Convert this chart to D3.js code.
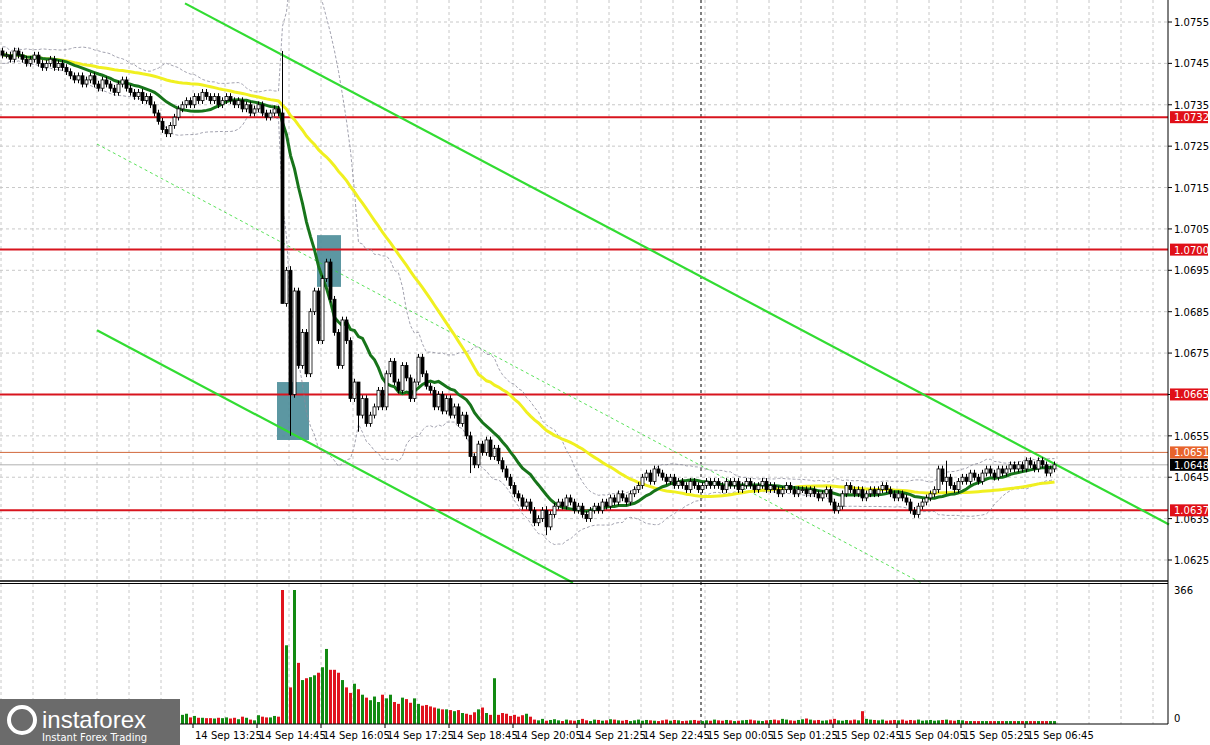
<!DOCTYPE html>
<html><head><meta charset="utf-8">
<script src="https://cdn.jsdelivr.net/npm/d3@7"></script>
<style>body{margin:0;background:#fff}svg{display:block;font-family:Tahoma,"DejaVu Sans",sans-serif}</style>
</head><body><svg id="c" width="1210" height="745"></svg>
<script>
// closes, in pips above 1.0600 (e.g. 147 = 1.0747), 5-minute candles starting 14 Sep 09:25
const closePips = [147,147,146,148,147,146,145,146,147,145,144,145,146,144,145,144,
143,142,141,142,140,141,142,140,139,141,140,139,138,140,141,139,138,137,138,136,137,135,
133,131,129,128,130,
132,134,135,136,135,137,136,138,137,136,137,135,136,137,136,135,136,134,135,133,134,135,133,132,133,134,
133,87,95,65,90,72,80,70,85,90,78,93,97,88,80,72,83,78,64,68,60,64,58,60,62,66,62,70,73,68,66,72,69,64,68,74,70,67,66,62,65,61,64,60,62,58,60,55,50,48,53,51,54,50,52,49,47,45,43,41,40,38,39,37,34,35,37,33,36,38,39,
38,40,39,37,38,36,35,37,38,37,
39,38,40,39,41,40,39,41,42,43,
45,46,44,47,46,45,44,45,43,44,
43,42,44,43,42,43,44,43,44,43,42,44,43,44,42,43,44,43,42,43,44,42,43,42,41,42,43,42,41,42,
42,41,42,41,40,41,42,39,37,38,
41,43,42,41,42,40,41,42,41,42,
43,42,41,40,41,40,39,37,36,38,
39,40,41,42,47,44,45,43,42,44,
45,44,46,45,44,46,47,46,45,47,
46,47,48,47,48,47,49,48,47,49,48,46,47,48];
const spikeIdx  = [70, 72, 89, 117, 136, 236];
const spikeHigh = [148, 96, 68, 56, 38, 49];
const spikeLow  = [87, 55, 56, 46, 31, 41];
const volume = [10,12,15,14,12,18,16,12,14,20,18,15,13,16,14,12,15,18,20,16,14,12,15,13,17,14,12,16,18,15,13,14,12,16,20,22,18,15,16,14,13,12,14,
15,18,25,28,18,22,17,17,16,16,15,17,16,18,15,17,13,20,17,12,10,24,20,18,18,22,20,
366,215,100,366,167,120,125,128,133,140,155,205,148,148,140,120,100,85,110,95,80,72,65,75,60,80,70,80,60,55,72,68,58,70,55,50,52,48,45,42,40,40,38,35,38,30,28,25,32,40,45,30,25,125,25,30,28,22,25,20,24,28,20,
12,10,14,9,11,13,10,8,12,10,9,11,14,10,8,12,11,9,10,13,12,10,9,11,8,10,12,9,11,10,
9,8,10,12,9,11,10,8,9,10,11,9,8,10,9,12,10,9,11,10,8,9,10,11,12,10,9,8,10,11,
12,10,14,12,10,9,11,13,15,12,10,11,9,10,12,14,10,9,11,10,12,10,35,14,12,11,10,12,9,10,
11,10,12,9,11,10,12,9,10,11,9,10,11,12,10,9,11,10];
const priceTicks = [1.0755,1.0745,1.0735,1.0725,1.0715,1.0705,1.0695,1.0685,1.0675,1.0665,1.0655,1.0645,1.0635,1.0625];
const timeLabels = ["14 Sep 13:25","14 Sep 14:45","14 Sep 16:05","14 Sep 17:25","14 Sep 18:45","14 Sep 20:05","14 Sep 21:25","14 Sep 22:45","15 Sep 00:05","15 Sep 01:25","15 Sep 02:45","15 Sep 04:05","15 Sep 05:25","15 Sep 06:45"];
const redLevels = [1.0732,1.0700,1.0665,1.0637];
const bidLevel = 1.0651, lastLevel = 1.0648;
// trend channel anchor points [candle index, price]
const upperChannel = [[46,1.07595],[292,1.06336]];
const lowerChannel = [[24,1.06805],[143,1.06195]];
const midChannel   = [[24,1.07255],[230,1.06195]];
const signalBoxes = [{i0:69,i1:77,p0:1.0668,p1:1.0654},{i0:79,i1:85,p0:1.07035,p1:1.0691}];
const vlineIdx = 175;

(function(){
const svg = d3.select("#c");
const W=1168, bot=580, vTop=584, vBot=724;
const C = closePips.map(p=>1.06+p/10000);
const candles = C.map((c,i)=>{
  const o = i? C[i-1]: c+0.0001;
  let h=Math.max(o,c)+0.00008, l=Math.min(o,c)-0.00008;
  const k = spikeIdx.indexOf(i);
  if(k>=0){h=1.06+spikeHigh[k]/10000; l=1.06+spikeLow[k]/10000;}
  return {i,o,c,h,l,v:volume[i]||8};
});
const x = d3.scaleLinear().domain([0,1]).range([1,5]);
const y = d3.scaleLinear().domain([1.0625,1.0755]).range([560,22]);
const yv = d3.scaleLinear().domain([0,366]).range([vBot,590]);

const g = svg.append("g");
const gridX = d3.range(-6,37).map(k=>x(48+8*k)).filter(v=>v>0&&v<W);
gridX.forEach(gx=>{
  g.append("line").attr("x1",gx).attr("x2",gx).attr("y1",0).attr("y2",bot).attr("stroke","#c8c8c8").attr("stroke-dasharray","3,3");
  g.append("line").attr("x1",gx).attr("x2",gx).attr("y1",vTop).attr("y2",vBot).attr("stroke","#c8c8c8").attr("stroke-dasharray","3,3");
});
priceTicks.forEach(p=>g.append("line").attr("x1",0).attr("x2",W).attr("y1",y(p)).attr("y2",y(p)).attr("stroke","#c8c8c8").attr("stroke-dasharray","3,3"));

svg.append("line").attr("x1",x(vlineIdx)).attr("x2",x(vlineIdx)).attr("y1",0).attr("y2",vBot).attr("stroke","#000").attr("stroke-dasharray","3,3");

signalBoxes.forEach(b=>svg.append("rect").attr("x",x(b.i0)).attr("width",x(b.i1)-x(b.i0)).attr("y",y(b.p0)).attr("height",y(b.p1)-y(b.p0)).attr("fill","#4a8c98").attr("opacity",0.9));

redLevels.forEach(p=>svg.append("line").attr("x1",0).attr("x2",W).attr("y1",y(p)).attr("y2",y(p)).attr("stroke","#d8141e").attr("stroke-width",2));
svg.append("line").attr("x1",0).attr("x2",W).attr("y1",y(bidLevel)).attr("y2",y(bidLevel)).attr("stroke","#d2693c").attr("stroke-width",1);
svg.append("line").attr("x1",0).attr("x2",W).attr("y1",y(lastLevel)).attr("y2",y(lastLevel)).attr("stroke","#b0b0b0").attr("stroke-width",1);

const chan=(pts,w,dash,op)=>{
  const [a,b]=pts;
  svg.append("line").attr("x1",x(a[0])).attr("y1",y(a[1])).attr("x2",x(b[0])).attr("y2",y(b[1]))
   .attr("stroke","#32dc32").attr("stroke-width",w).attr("stroke-dasharray",dash).attr("opacity",op);
};
chan(upperChannel,2.2,null,1); chan(lowerChannel,2.2,null,1); chan(midChannel,1,"3,3",0.8);

const sma=(n)=>C.map((_,i)=>d3.mean(C.slice(Math.max(0,i-n+1),i+1)));
const m20=sma(20);
const sd=C.map((_,i)=>d3.deviation(C.slice(Math.max(0,i-19),i+1))||0.0001);
const line=d3.line().x((d,i)=>x(i)+1.5).y(d=>y(d));
const bbU=m20.map((m,i)=>m+2*sd[i]), bbL=m20.map((m,i)=>m-2*sd[i]);
[bbU,bbL].forEach(a=>svg.append("path").attr("d",line(a)).attr("fill","none").attr("stroke","#8a8a9a").attr("stroke-width",0.8).attr("stroke-dasharray","3,2"));
svg.append("path").attr("d",line(sma(50))).attr("fill","none").attr("stroke","#f0f020").attr("stroke-width",3);
svg.append("path").attr("d",line(sma(14))).attr("fill","none").attr("stroke","#17741a").attr("stroke-width",3);

const cg=svg.append("g");
candles.forEach(d=>{
  const cx=x(d.i)+1.5;
  cg.append("line").attr("x1",cx).attr("x2",cx).attr("y1",y(d.h)).attr("y2",y(d.l)).attr("stroke","#000");
  const up=d.c>=d.o;
  cg.append("rect").attr("x",x(d.i)).attr("width",3).attr("y",y(Math.max(d.o,d.c))).attr("height",Math.max(1,Math.abs(y(d.o)-y(d.c))))
    .attr("fill",up?"#fff":"#000").attr("stroke","#000").attr("stroke-width",0.8);
});

candles.forEach(d=>svg.append("rect").attr("x",x(d.i)).attr("width",3).attr("y",yv(d.v)).attr("height",vBot-yv(d.v)).attr("fill",d.c>=d.o?"#128a12":"#e0141e"));

svg.append("line").attr("x1",W).attr("x2",W).attr("y1",0).attr("y2",vBot).attr("stroke","#000");
svg.append("line").attr("x1",0).attr("x2",W).attr("y1",581).attr("y2",581).attr("stroke","#000").attr("stroke-width",1.5);
svg.append("line").attr("x1",0).attr("x2",W).attr("y1",583.5).attr("y2",583.5).attr("stroke","#000");
svg.append("line").attr("x1",0).attr("x2",W).attr("y1",vBot).attr("y2",vBot).attr("stroke","#000");

priceTicks.forEach(p=>{
  svg.append("line").attr("x1",W).attr("x2",W+4).attr("y1",y(p)).attr("y2",y(p)).attr("stroke","#000");
  svg.append("text").attr("x",W+6).attr("y",y(p)+4).attr("font-size",10).text(p.toFixed(4));
});
const tag=(p,bg)=>{
  svg.append("rect").attr("x",W+2).attr("y",y(p)-6).attr("width",38).attr("height",12).attr("fill",bg);
  svg.append("text").attr("x",W+6).attr("y",y(p)+4).attr("font-size",10).attr("fill","#fff").text(p.toFixed(4));
};
redLevels.forEach(p=>tag(p,"#e01018"));
tag(bidLevel,"#e8642c"); tag(lastLevel,"#000");
svg.append("text").attr("x",W+6).attr("y",594).attr("font-size",10).text("366");
svg.append("text").attr("x",W+6).attr("y",722).attr("font-size",10).text("0");

timeLabels.forEach((t,k)=>{
  const tx=x(48+16*k);
  svg.append("line").attr("x1",tx).attr("x2",tx).attr("y1",vBot).attr("y2",vBot+4).attr("stroke","#000");
  svg.append("text").attr("x",tx+2).attr("y",739).attr("font-size",10).text(t);
});
svg.append("rect").attr("x",0).attr("y",699).attr("width",180).attr("height",46).attr("fill","#6b6b6b");
svg.append("circle").attr("cx",22).attr("cy",720).attr("r",13).attr("fill","none").attr("stroke","#fff").attr("stroke-width",4);
svg.append("text").attr("x",42).attr("y",728).attr("font-size",24).attr("fill","#fff").attr("font-family","Arial,Liberation Sans").text("instaforex");
svg.append("text").attr("x",42).attr("y",741).attr("font-size",10).attr("fill","#fff").text("Instant Forex Trading");
})();
</script></body></html>
